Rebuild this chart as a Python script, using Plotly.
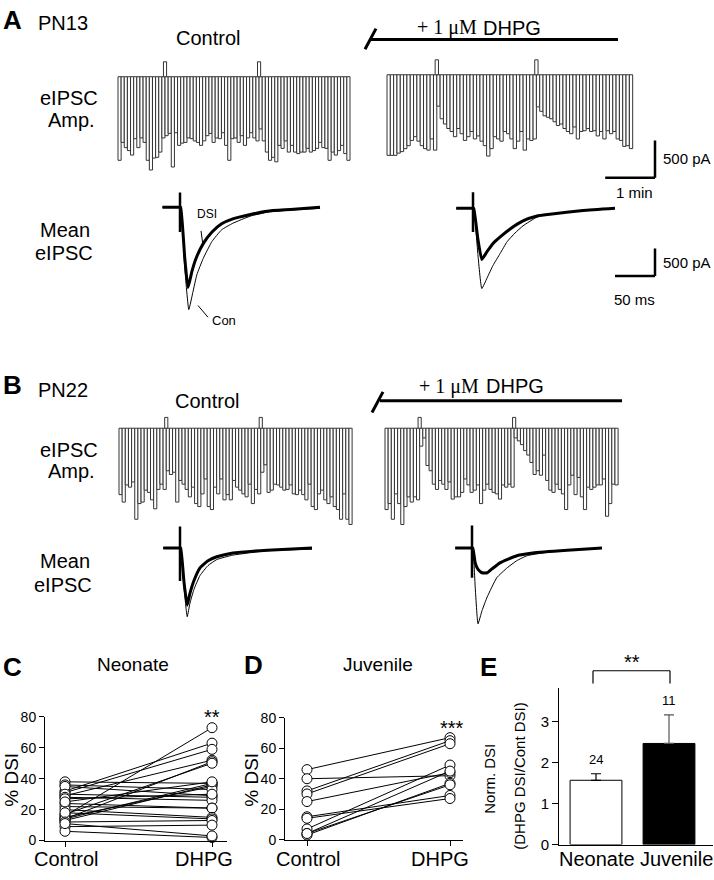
import plotly.graph_objects as go

W, H = 714, 880
FONT = "Liberation Sans, Arial, sans-serif"
SERIF = "Liberation Serif, Times New Roman, serif"

# ---------------- data ----------------
SWEEP_S = 4            # s between evoked IPSCs
SCALE_PA = 500         # scale bar amplitude (pA)
SCALE_MIN = 1          # scale bar time (min)
SCALE_MS = 50          # scale bar time (ms)

# eIPSC amplitudes (pA), one per sweep
A_ctrl_amp = [1120, 880, 950, 990, 1050, 830, 950, 820, 880, 1120, 1250, 1090, 1080, 1010, 820,
              790, 760, 1210, 750, 920, 890, 880, 820, 830, 860, 880, 920, 860, 790, 760,
              880, 820, 830, 750, 920, 1120, 830, 820, 880, 790, 920, 820, 750, 820, 860,
              700, 860, 1010, 1120, 1080, 1140, 920, 960, 860, 1010, 920, 1010, 1030, 1010, 1010,
              960, 1010, 990, 960, 880, 950, 960, 1120, 1010, 1050, 990, 920, 1030, 1120]
A_dhpg_amp = [1080, 1080, 1080, 1050, 1030, 990, 950, 880, 830, 890, 950, 990, 1010, 860, 1010,
              420, 590, 660, 720, 760, 830, 720, 790, 880, 830, 760, 860, 820, 890, 950,
              1090, 990, 830, 860, 890, 760, 790, 860, 990, 890, 760, 1010, 860, 880, 860,
              430, 490, 550, 570, 590, 630, 680, 660, 720, 760, 790, 700, 860, 760, 750,
              720, 760, 750, 820, 760, 860, 750, 790, 760, 860, 880, 960, 950, 990]
B_ctrl_amp = [890, 990, 760, 790, 720, 1220, 1010, 990, 830, 860, 960, 1080, 820, 750, 820,
              570, 620, 590, 990, 700, 750, 820, 920, 790, 1010, 1050, 880, 680, 1050, 1090,
              790, 880, 680, 960, 890, 960, 700, 790, 830, 880, 920, 750, 1010, 820, 880,
              590, 490, 860, 830, 750, 760, 790, 830, 820, 760, 880, 890, 830, 890, 960,
              750, 1050, 1090, 880, 830, 960, 1010, 920, 1050, 1090, 1220, 880, 1220, 1290]
B_dhpg_amp = [1090, 1010, 1220, 880, 1010, 1290, 1050, 920, 990, 920, 960,
              240, 130, 500, 570, 750, 820, 700, 750, 820, 720, 950, 920, 920, 860, 680,
              760, 860, 830, 760, 1010, 830, 750, 820, 860, 880, 950, 760, 790, 750, 790,
              130, 170, 220, 300, 360, 460, 620, 570, 630, 360, 700, 830, 860, 750, 820,
              880, 1090, 760, 630, 890, 660, 920, 1090, 790, 820, 790, 760, 760, 680, 1180,
              1010, 750, 760]
# DSI depolarising steps (sweep position, artefact height pA)
A_ctrl_dsi = [14.5, 44.5]
A_dhpg_dsi = [14.5, 44.5]
B_ctrl_dsi = [14.5, 44.5]
B_dhpg_dsi = [10.5, 40.5]
A_step_pa = 200
B_step_pa = 145

# Mean eIPSC traces (ms, pA)
A_ctrl_dsi_t = [-22, 0, 1, 6, 10, 15, 20, 29, 40, 52, 66, 88, 109, 138, 175]
A_ctrl_dsi_i = [0, 0, 0, -930, -1460, -1160, -930, -660, -450, -300, -210, -130, -70, -40, 0]
A_ctrl_con_t = [-22, 0, 1, 6, 11, 16, 21, 29, 40, 52, 66, 88, 109, 138, 175]
A_ctrl_con_i = [0, 0, 0, -1110, -1860, -1550, -1230, -930, -620, -410, -290, -160, -90, -50, -20]
A_ctrl_art = [270, -450]

A_dhpg_dsi_t = [-21, 0, 1, 6, 11, 17.5, 25, 34, 46, 62.5, 80, 96, 137.5, 177.5]
A_dhpg_dsi_i = [0, 0, 0, -550, -930, -790, -640, -520, -380, -230, -140, -110, -40, 0]
A_dhpg_con_t = [-21, 0, 1, 6, 11, 17.5, 25, 34, 42.5, 52.5, 62.5, 80, 96, 137.5, 177.5]
A_dhpg_con_i = [0, 0, 0, -820, -1460, -1270, -1040, -820, -610, -450, -320, -160, -110, -40, 0]
A_dhpg_art = [290, -430]

B_ctrl_dsi_t = [-21, 0, 1, 5, 9, 12.5, 17.5, 25, 35, 46, 66, 109, 165]
B_ctrl_dsi_i = [0, 0, 0, -620, -1040, -820, -590, -360, -230, -160, -90, -40, 0]
B_ctrl_con_t = [-21, 0, 1, 5, 9, 12.5, 17.5, 25, 35, 46, 66, 109, 165]
B_ctrl_con_i = [0, 0, 0, -710, -1250, -1000, -750, -500, -320, -210, -130, -50, -20]
B_ctrl_art = [390, -600]

B_dhpg_dsi_t = [-21, 0, 1, 4, 7.5, 12.5, 19, 25, 35, 56, 76, 119, 162.5]
B_dhpg_dsi_i = [0, 0, 0, -270, -390, -450, -450, -380, -270, -140, -90, -40, 0]
B_dhpg_con_t = [-21, 0, 1, 4, 7.5, 12.5, 19, 31, 44, 56, 69, 97.5, 122.5, 162.5]
B_dhpg_con_i = [0, 0, 0, -710, -1380, -1140, -890, -540, -360, -230, -140, -70, -40, 0]
B_dhpg_art = [410, -540]

# % DSI, paired
conditions = ["Control", "DHPG"]
neo_ctrl = [16, 32, 31, 29, 14, 17, 13, 15, 14, 38, 36, 35, 30, 28, 27, 24, 22, 20, 18, 12, 9, 6, 25, 11]
neo_dhpg = [73, 63, 59, 52, 51, 50, 36, 35, 37, 37, 33, 29, 28, 26, 30, 21, 21, 15, 14, 13, 10, 2, 38, 3]
juv_ctrl = [46, 40, 32, 30, 25, 15, 14, 7, 4, 3, 4]
juv_dhpg = [67, 42, 65, 63, 44, 29, 27, 49, 45, 37, 36]
dsi_ticks = [0, 20, 40, 60, 80]

# Normalised DSI
groups = ["Neonate", "Juvenile"]
norm_mean = [1.57, 2.47]
norm_sem = [0.16, 0.70]
norm_n = [24, 11]
norm_ticks = [0, 1, 2, 3]

# ---------------- figure ----------------
fig = go.Figure()
fig.update_layout(width=W, height=H, margin=dict(l=0, r=0, t=0, b=0, pad=0),
                  paper_bgcolor="white", plot_bgcolor="rgba(0,0,0,0)",
                  showlegend=False, barmode="overlay",
                  font=dict(family=FONT, color="black", size=14))

_n = [0]


def add_axes(box, xref_px, xref_val, px_per_x, yref_px, yref_val, px_per_y, xkw=None, ykw=None):
    _n[0] += 1
    s = "" if _n[0] == 1 else str(_n[0])
    l, r, t, b = box
    xa = dict(domain=[l / W, r / W],
              range=[xref_val + (l - xref_px) / px_per_x, xref_val + (r - xref_px) / px_per_x],
              anchor="y" + s, visible=False, fixedrange=True, showgrid=False, zeroline=False)
    ya = dict(domain=[1 - b / H, 1 - t / H],
              range=[yref_val + (yref_px - b) / px_per_y, yref_val + (yref_px - t) / px_per_y],
              anchor="x" + s, visible=False, fixedrange=True, showgrid=False, zeroline=False)
    if xkw:
        xa.update(xkw)
    if ykw:
        ya.update(ykw)
    fig.update_layout(**{"xaxis" + s: xa, "yaxis" + s: ya})
    fx = lambda px: xref_val + (px - xref_px) / px_per_x
    fy = lambda py: yref_val + (yref_px - py) / px_per_y
    return "x" + s, "y" + s, fx, fy


def txt(x, y, s, size=20, family=FONT, xanchor="center", yanchor="middle", angle=0):
    fig.add_annotation(x=x / W, y=1 - y / H, xref="paper", yref="paper", text=s, showarrow=False,
                       font=dict(size=size, family=family, color="black"),
                       xanchor=xanchor, yanchor=yanchor, textangle=angle, borderpad=0)


def pline(x0, y0, x1, y1, w=1.0, color="black"):
    fig.add_shape(type="line", xref="paper", yref="paper", x0=x0 / W, y0=1 - y0 / H,
                  x1=x1 / W, y1=1 - y1 / H, line=dict(color=color, width=w))


PX_PER_PA_BAR = 38 / 500
BAR_LINE = dict(color="#333333", width=1)


def bar_panel(amps, dsi_pos, step, left, bar_w, base_px, box):
    xa, ya, fx, fy = add_axes(box, left + bar_w / 2, 0, bar_w, base_px, 0, PX_PER_PA_BAR)
    fig.add_trace(go.Bar(x=list(range(len(amps))), y=[-a for a in amps], base=0, width=1.0,
                         marker=dict(color="white", line=BAR_LINE), xaxis=xa, yaxis=ya,
                         hoverinfo="skip"))
    fig.add_trace(go.Bar(x=dsi_pos, y=[step] * len(dsi_pos), base=0, width=1.0,
                         marker=dict(color="white", line=BAR_LINE), xaxis=xa, yaxis=ya,
                         hoverinfo="skip"))
    return xa, ya, fx, fy


bar_panel(A_ctrl_amp, A_ctrl_dsi, A_step_pa, 118, 3.135, 70, (110, 356, 40, 178))
xa_ar, ya_ar, fx_ar, fy_ar = bar_panel(A_dhpg_amp, A_dhpg_dsi, A_step_pa, 387, 3.32, 68, (380, 714, 40, 180))
bar_panel(B_ctrl_amp, B_ctrl_dsi, B_step_pa, 119, 3.15, 428, (110, 356, 405, 535))
bar_panel(B_dhpg_amp, B_dhpg_dsi, B_step_pa, 385, 3.15, 428, (378, 640, 405, 535))

# scale bar for amplitude plots
cx, cy = fx_ar(655), fy_ar(173)
fig.add_shape(type="line", xref=xa_ar, yref=ya_ar, x0=cx, x1=cx, y0=cy, y1=cy + SCALE_PA,
              line=dict(color="black", width=2.5))
fig.add_shape(type="line", xref=xa_ar, yref=ya_ar, x0=cx - SCALE_MIN * 60 / SWEEP_S, x1=cx, y0=cy, y1=cy,
              line=dict(color="black", width=2.5))

# mean traces
PX_PER_MS = 40 / 50
PX_PER_PA_TR = 28 / 500


def trace_panel(dsi_t, dsi_i, con_t, con_i, art, x_art, y_base, box):
    xa, ya, fx, fy = add_axes(box, x_art, 0, PX_PER_MS, y_base, 0, PX_PER_PA_TR)
    fig.add_trace(go.Scatter(x=con_t, y=con_i, mode="lines", line=dict(color="black", width=1, shape="spline", smoothing=0.4),
                             xaxis=xa, yaxis=ya, hoverinfo="skip"))
    fig.add_trace(go.Scatter(x=dsi_t, y=dsi_i, mode="lines", line=dict(color="black", width=3, shape="spline", smoothing=0.4),
                             xaxis=xa, yaxis=ya, hoverinfo="skip"))
    fig.add_trace(go.Scatter(x=[0, 0], y=art, mode="lines", line=dict(color="black", width=2.5),
                             xaxis=xa, yaxis=ya, hoverinfo="skip"))
    return xa, ya, fx, fy


trace_panel(A_ctrl_dsi_t, A_ctrl_dsi_i, A_ctrl_con_t, A_ctrl_con_i, A_ctrl_art, 180, 203, (150, 345, 180, 330))
xa_tr, ya_tr, fx_tr, fy_tr = trace_panel(A_dhpg_dsi_t, A_dhpg_dsi_i, A_dhpg_con_t, A_dhpg_con_i, A_dhpg_art, 473, 204, (440, 714, 180, 330))
trace_panel(B_ctrl_dsi_t, B_ctrl_dsi_i, B_ctrl_con_t, B_ctrl_con_i, B_ctrl_art, 180, 550, (150, 345, 515, 650))
trace_panel(B_dhpg_dsi_t, B_dhpg_dsi_i, B_dhpg_con_t, B_dhpg_con_i, B_dhpg_art, 472, 550, (440, 714, 515, 650))

cx, cy = fx_tr(655), fy_tr(273)
fig.add_shape(type="line", xref=xa_tr, yref=ya_tr, x0=cx, x1=cx, y0=cy, y1=cy + SCALE_PA,
              line=dict(color="black", width=2.5))
fig.add_shape(type="line", xref=xa_tr, yref=ya_tr, x0=cx - SCALE_MS, x1=cx, y0=cy, y1=cy,
              line=dict(color="black", width=2.5))

# ---- paired plots C and D ----
AX_LINE = dict(visible=True, showline=True, linecolor="black", linewidth=1, ticks="outside",
               ticklen=5, tickwidth=1, tickcolor="black", showgrid=False, zeroline=False)


def paired_panel(ctrl, dhpg, box, x0px, x1px, y0px, y80px, label_px):
    xkw = dict(AX_LINE, tickvals=[0, 1], showticklabels=False)
    ykw = dict(AX_LINE, tickvals=dsi_ticks, tickfont=dict(size=14, family=FONT))
    xa, ya, fx, fy = add_axes(box, x0px, 0, x1px - x0px, y0px, 0, (y0px - y80px) / 80, xkw, ykw)
    lx, ly = [], []
    for c, d in zip(ctrl, dhpg):
        lx += [0, 1, None]
        ly += [c, d, None]
    fig.add_trace(go.Scatter(x=lx, y=ly, mode="lines", line=dict(color="black", width=1),
                             xaxis=xa, yaxis=ya, cliponaxis=False, hoverinfo="skip"))
    fig.add_trace(go.Scatter(x=[0] * len(ctrl) + [1] * len(dhpg), y=ctrl + dhpg, mode="markers",
                             marker=dict(symbol="circle", size=10, color="white", line=dict(color="black", width=1)),
                             xaxis=xa, yaxis=ya, cliponaxis=False, hoverinfo="skip"))
    for lab, xp in zip(conditions, label_px):
        txt(xp, 867, lab, size=20)


paired_panel(neo_ctrl, neo_dhpg, (45, 227, 722, 848), 65, 212, 848, 722, (66, 204))
paired_panel(juv_ctrl, juv_dhpg, (285, 463, 723, 847), 307, 450, 847, 723, (308, 440))

# ---- E bar chart ----
xkwE = dict(AX_LINE, ticks="", tickvals=[0, 1], showticklabels=False)
ykwE = dict(AX_LINE, ticklen=6, tickvals=norm_ticks, tickfont=dict(size=15, family=FONT))
xaE, yaE, fxE, fyE = add_axes((559, 713, 693, 852), 596, 0, 73, 852, 0, 41.67, xkwE, ykwE)
fills = ["white", "black"]
errc = ["black", "#555555"]
for i in range(2):
    fig.add_trace(go.Bar(x=[i], y=[norm_mean[i]], width=0.71, marker=dict(color=fills[i], line=dict(color="black", width=1)),
                         error_y=dict(type="data", array=[norm_sem[i]], arrayminus=[0], symmetric=False,
                                      color=errc[i], thickness=1.2, width=5),
                         xaxis=xaE, yaxis=yaE, hoverinfo="skip"))
    fig.add_annotation(x=i, y=norm_mean[i] + norm_sem[i], xref=xaE, yref=yaE, text=str(norm_n[i]),
                       showarrow=False, yanchor="bottom", yshift=5, font=dict(size=13, family=FONT, color="black"))
for lab, xp in zip(groups, (597, 676)):
    txt(xp, 867, lab, size=20)

# ---- text & decorations ----
# Panel A
txt(12, 12, "<b>A</b>", size=26)
txt(63, 15, "PN13")
txt(208, 31, "Control")
txt(478, 20, "+ 1 μM", family=SERIF, xanchor="right")
txt(482, 20, "DHPG", xanchor="left")
pline(370, 32, 618, 32, w=3)
pline(365, 42, 376, 21, w=3)
txt(69, 92, "eIPSC")
txt(71, 114, "Amp.")
txt(65, 226, "Mean")
txt(64, 250, "eIPSC")
txt(207, 210, "DSI", size=12)
pline(201, 227, 203, 242, w=1)
txt(224, 318, "Con", size=13)
pline(198, 303, 208, 315, w=1)
txt(662, 153, "500 pA", size=15, xanchor="left")
txt(634, 188, "1 min", size=15)
txt(662, 259, "500 pA", size=15, xanchor="left")
txt(634, 297, "50 ms", size=15)

# Panel B
txt(12, 384, "<b>B</b>", size=26)
txt(63, 389, "PN22")
txt(207, 400, "Control")
txt(480, 385, "+ 1 μM", family=SERIF, xanchor="right")
txt(485, 385, "DHPG", xanchor="left")
pline(380, 400, 622, 400, w=3)
pline(372, 412, 383, 391, w=3)
txt(69, 450, "eIPSC")
txt(71, 472, "Amp.")
txt(65, 563, "Mean")
txt(63, 588, "eIPSC")

# Panels C, D, E
txt(12, 671, "<b>C</b>", size=26)
txt(133, 669, "Neonate", size=19)
txt(12, 786, "% DSI", size=19, angle=-90)
txt(212, 722, "**", size=20)
txt(253, 669, "<b>D</b>", size=26)
txt(378, 669, "Juvenile", size=19)
txt(252, 786, "% DSI", size=19, angle=-90)
txt(452, 733, "***", size=20)
txt(488, 671, "<b>E</b>", size=26)
txt(490, 785, "Norm. DSI", size=15, angle=-90)
txt(520, 782, "(DHPG DSI/Cont DSI)", size=15, angle=-90)
txt(632, 666, "**", size=20)
pline(593, 688, 593, 675, w=1.2)
pline(593, 675, 670, 675, w=1.2)
pline(670, 675, 670, 688, w=1.2)

fig.write_html("out.html",
               config={"displayModeBar": False, "staticPlot": True},
               post_script="document.body.style.margin='0';document.body.style.padding='0';"
                           "document.documentElement.style.overflow='hidden';")
